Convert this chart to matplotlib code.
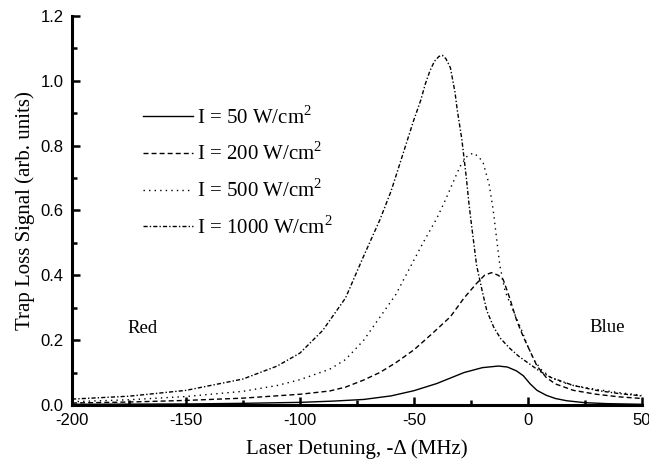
import matplotlib
matplotlib.use("Agg")
import matplotlib.pyplot as plt
from matplotlib.ticker import MultipleLocator, FormatStrFormatter

# I = 50 W/cm^2
x50 = [-200, -150, -125, -100, -85, -72, -60, -50, -40, -28, -20, -13, -9, -5, -2, 1, 4, 8, 12, 17, 25, 35, 50]
y50 = [0.002, 0.003, 0.005, 0.008, 0.012, 0.017, 0.028, 0.044, 0.066, 0.100, 0.115, 0.120, 0.117, 0.105, 0.090,
       0.065, 0.045, 0.030, 0.020, 0.013, 0.007, 0.004, 0.002]

# I = 200 W/cm^2
x200 = [-200, -175, -150, -125, -100, -87, -80, -72, -65, -58, -50, -42, -34, -28, -22.5, -19, -16, -13, -10.8,
        -8, -5, -2, 1, 4, 8, 12, 20, 30, 40, 50]
y200 = [0.006, 0.009, 0.014, 0.021, 0.033, 0.043, 0.055, 0.077, 0.100, 0.130, 0.170, 0.220, 0.272, 0.330, 0.375,
        0.400, 0.408, 0.400, 0.386, 0.330, 0.262, 0.210, 0.165, 0.120, 0.085, 0.065, 0.045, 0.033, 0.025, 0.020]

# I = 500 W/cm^2
x500 = [-200, -175, -150, -125, -110, -100, -87, -80, -72, -65, -58, -52, -46, -40, -36, -32, -29.8, -27, -24,
        -21.5, -19.6, -17, -15.2, -13.5, -12.3, -10, -6.4, -3, 0, 3, 6, 10, 15, 20, 30, 40, 50]
y500 = [0.010, 0.016, 0.026, 0.042, 0.060, 0.078, 0.110, 0.140, 0.200, 0.270, 0.340, 0.420, 0.500, 0.575, 0.635,
        0.700, 0.735, 0.765, 0.777, 0.765, 0.746, 0.680, 0.600, 0.500, 0.430, 0.350, 0.290, 0.235, 0.180, 0.135,
        0.108, 0.085, 0.070, 0.060, 0.048, 0.038, 0.030]

# I = 1000 W/cm^2
x1000 = [-200, -175, -150, -125, -110, -100, -90, -80, -72, -65, -60, -55, -50, -47, -45, -43, -41, -39, -37.5,
         -36, -34, -32, -31, -29, -27, -26, -25, -22.5, -20, -18, -15, -12, -8, -4, 0, 5, 10, 20, 30, 40, 50]
y1000 = [0.018, 0.027, 0.045, 0.080, 0.120, 0.160, 0.230, 0.330, 0.460, 0.570, 0.660, 0.770, 0.880, 0.940, 0.990,
         1.030, 1.060, 1.075, 1.078, 1.068, 1.040, 0.965, 0.910, 0.820, 0.700, 0.630, 0.570, 0.430, 0.350, 0.290,
         0.240, 0.205, 0.175, 0.150, 0.130, 0.105, 0.085, 0.060, 0.045, 0.035, 0.028]

labels = ['I = 50 W/cm$^2$', 'I = 200 W/cm$^2$', 'I = 500 W/cm$^2$', 'I = 1000 W/cm$^2$']

serif = 'Liberation Serif'
sans = 'Liberation Sans'
plt.rcParams['mathtext.fontset'] = 'custom'
plt.rcParams['mathtext.rm'] = serif
plt.rcParams['axes.unicode_minus'] = False

fig = plt.figure(figsize=(6.49, 4.66), dpi=100)
ax = fig.add_axes([0.111, 0.131, 0.878, 0.835])

lw = 1.0
ax.plot(x50, y50, color='k', lw=lw, linestyle='-', label=labels[0])
ax.plot(x200, y200, color='k', lw=lw, linestyle=(0, (3.6, 2.2)), label=labels[1])
ax.plot(x500, y500, color='k', lw=lw, linestyle=(0, (1, 3.0)), label=labels[2])
ax.plot(x1000, y1000, color='k', lw=lw, linestyle=(0, (3, 1.5, 1, 1.5)), label=labels[3])

ax.set_xlim(-200, 50)
ax.set_ylim(0, 1.2)
ax.xaxis.set_major_locator(MultipleLocator(50))
ax.xaxis.set_minor_locator(MultipleLocator(25))
ax.yaxis.set_major_locator(MultipleLocator(0.2))
ax.yaxis.set_minor_locator(MultipleLocator(0.1))
ax.yaxis.set_major_formatter(FormatStrFormatter('%.1f'))

for s in ['top', 'right']:
    ax.spines[s].set_visible(False)
for s in ['left', 'bottom']:
    ax.spines[s].set_linewidth(2.2)

ax.tick_params(which='major', direction='in', length=6, width=1.8, labelsize=12, pad=6)
ax.tick_params(which='minor', direction='in', length=3.5, width=1.8)
for t in ax.get_xticklabels() + ax.get_yticklabels():
    t.set_fontfamily(sans)

ax.set_xlabel('Laser Detuning, -\u0394 (MHz)', fontfamily=serif, fontsize=15, labelpad=8)
ax.set_ylabel('Trap Loss Signal (arb. units)', fontfamily=serif, fontsize=15, labelpad=4)

ax.text(-169, 0.235, 'Red', fontfamily=serif, fontsize=13.5, ha='center', va='center')
ax.text(35, 0.238, 'Blue', fontfamily=serif, fontsize=13.5, ha='center', va='center')

leg = ax.legend(loc='upper left', bbox_to_anchor=(0.11, 0.79), frameon=False,
                prop={'family': serif, 'size': 15}, handlelength=2.4, handletextpad=0.2,
                labelspacing=0.68, borderaxespad=0)

fig.savefig('out.png', dpi=100)
